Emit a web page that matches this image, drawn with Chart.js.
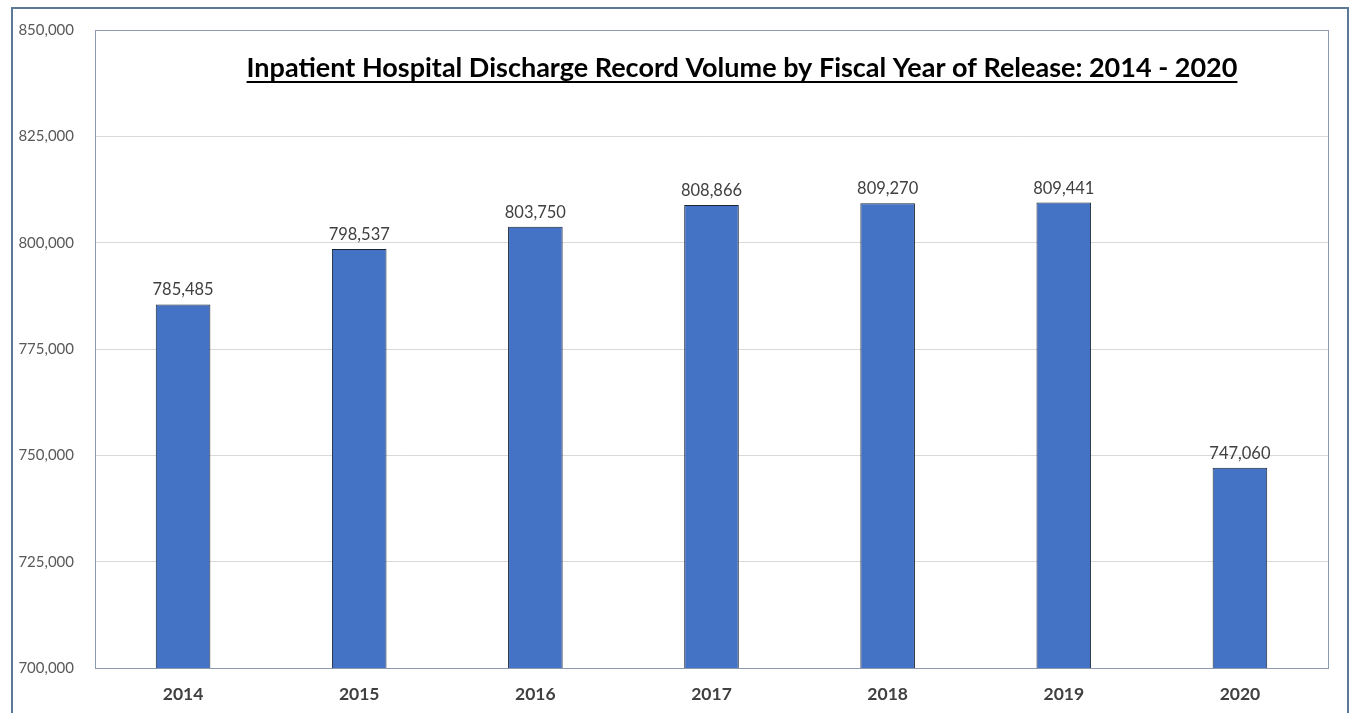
<!DOCTYPE html>
<html>
<head>
<meta charset="utf-8">
<script src="https://cdn.jsdelivr.net/npm/chart.js@4/dist/chart.umd.min.js"></script>
<style>
  html, body { margin: 0; padding: 0; background: #fff; }
  #wrap { width: 1353px; height: 713px; position: relative; }
</style>
</head>
<body>
<div id="wrap"><canvas id="chart"></canvas></div>
<script>
'use strict';

var years = ['2014', '2015', '2016', '2017', '2018', '2019', '2020'];
var records = [785485, 798537, 803750, 808866, 809270, 809441, 747060];
var yTicks = [700000, 725000, 750000, 775000, 800000, 825000, 850000];
var chartTitle = 'Inpatient Hospital Discharge Record Volume by Fiscal Year of Release: 2014 - 2020';

var fontFamily = 'Lato, "Open Sans", sans-serif';

var fmt = function(v) {
  return v.toLocaleString('en-US');
};

// frame, title and value labels drawn over the chart
var decorations = {
  id: 'decorations',
  afterDraw: function(chart) {
    var ctx = chart.ctx;
    var area = chart.chartArea;
    ctx.save();

    // outer frame
    ctx.strokeStyle = '#5b7896';
    ctx.lineWidth = 2;
    ctx.beginPath();
    ctx.moveTo(12, 713);
    ctx.lineTo(12, 8);
    ctx.lineTo(1348, 8);
    ctx.lineTo(1348, 713);
    ctx.stroke();

    // plot area border
    ctx.strokeStyle = '#8a9bb0';
    ctx.lineWidth = 1;
    ctx.strokeRect(area.left + 0.5, area.top + 0.5, area.right - area.left, area.bottom - area.top);

    // title
    ctx.font = 'bold 27px ' + fontFamily;
    ctx.fillStyle = '#000';
    ctx.textAlign = 'center';
    ctx.textBaseline = 'alphabetic';
    var tx = 742, ty = 77;
    ctx.fillText(chartTitle, tx, ty);
    var w = ctx.measureText(chartTitle).width;
    ctx.fillRect(tx - w / 2, ty + 4, w, 2);

    // value labels
    var meta = chart.getDatasetMeta(0);
    ctx.font = '16.5px ' + fontFamily;
    ctx.fillStyle = '#404040';
    ctx.textBaseline = 'bottom';
    meta.data.forEach(function(bar, i) {
      ctx.fillText(fmt(records[i]), bar.x, bar.y - 6);
    });

    ctx.restore();
  }
};

var ctx = document.getElementById('chart').getContext('2d');
var chart = new Chart(ctx, {
  type: 'bar',
  data: {
    labels: years,
    datasets: [{
      label: 'Records',
      data: records,
      backgroundColor: '#4472c4',
      borderColor: '#1a2433',
      borderWidth: 1,
      borderSkipped: 'bottom',
      categoryPercentage: 1.0,
      barPercentage: 0.31
    }]
  },
  options: {
    responsive: true,
    maintainAspectRatio: false,
    animation: false,
    layout: { padding: { left: 0, top: 26, right: 25, bottom: 0 } },
    plugins: {
      legend: { display: false },
      title: { display: false },
      tooltip: { enabled: false }
    },
    scales: {
      x: {
        grid: { display: false, drawTicks: false },
        border: { display: false },
        ticks: {
          padding: 16,
          color: '#404040',
          font: { family: fontFamily, size: 17.5, weight: 'bold' }
        },
        afterFit: function(scale) { scale.height = 45; }
      },
      y: {
        min: yTicks[0],
        max: yTicks[yTicks.length - 1],
        grid: { color: '#d9d9d9', drawTicks: false },
        border: { display: false },
        ticks: {
          stepSize: 25000,
          padding: 21,
          color: '#595959',
          font: { family: fontFamily, size: 15 },
          callback: function(v) { return fmt(v); }
        },
        afterFit: function(scale) { scale.width = 95; }
      }
    }
  },
  plugins: [decorations]
});
</script>
</body>
</html>
